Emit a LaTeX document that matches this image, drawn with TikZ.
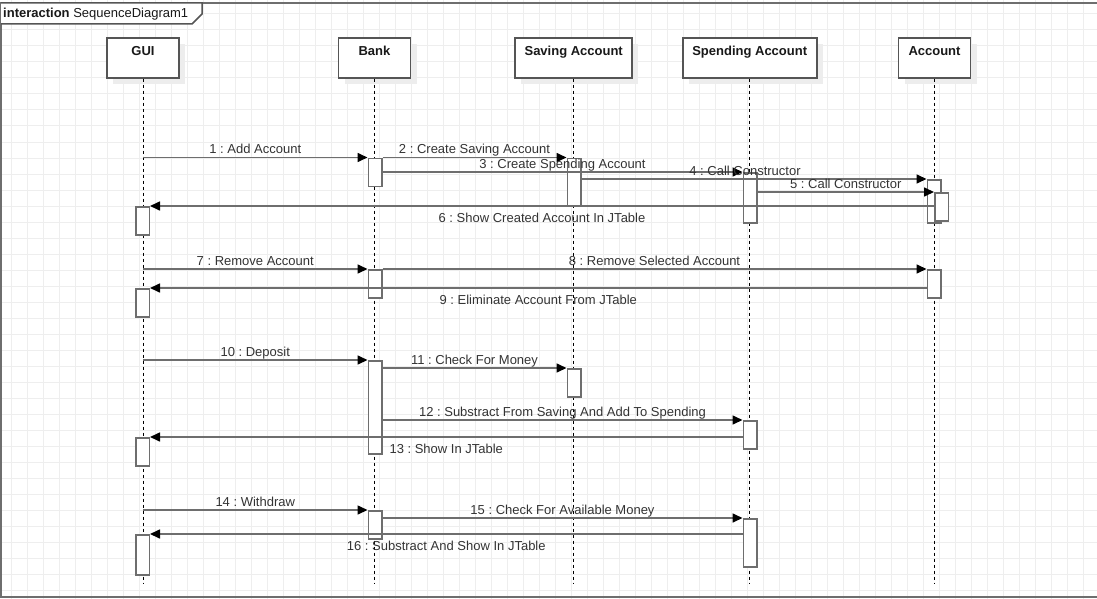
\documentclass[tikz,border=0pt]{standalone}
\usepackage{fontspec}
\setmainfont{Liberation Sans}
\usetikzlibrary{arrows.meta,shadows}
\definecolor{gridc}{HTML}{EEEEEE}
\definecolor{linec}{HTML}{6E6E6E}
\definecolor{boxc}{HTML}{555555}
\definecolor{txtc}{HTML}{333333}
\definecolor{shadc}{HTML}{EDEDED}
\frenchspacing
\begin{document}
\begin{tikzpicture}[x=1pt,y=-1pt,
  head/.style={draw=boxc, line width=1.6pt, fill=white, minimum height=40pt,
    inner ysep=0pt, text height=17.5pt, text depth=22.5pt, anchor=north,
    text=black!90, font=\bfseries\fontsize{13}{15}\selectfont,
    drop shadow={shadow xshift=6pt,shadow yshift=-6pt,fill=shadc,opacity=1}},
  lifeline/.style={draw=black, line width=1pt, dash pattern=on 3pt off 3pt},
  act/.style={draw=linec, line width=1.5pt, fill=white, minimum width=13.5pt,
    inner sep=0pt, anchor=north},
  msg/.style={draw=linec, line width=1.6pt,
    -{Triangle[length=10pt,width=9pt,color=black]}},
  lbl/.style={text=txtc, font=\fontsize{13}{15}\selectfont, inner sep=0pt,
    anchor=base, midway},
  abovelbl/.style={lbl, yshift=4pt},
  belowlbl/.style={lbl, yshift=-16pt},
]
\useasboundingbox (0,0) rectangle (1097,599);

% background grid
\foreach \gx in {11,27,...,1097} \draw[gridc, line width=1pt] (\gx,0) -- (\gx,599);
\foreach \gy in {14,30,...,599} \draw[gridc, line width=1pt] (0,\gy) -- (1097,\gy);

% interaction frame and its name tab
\draw[linec, line width=2pt] (1,3) rectangle (1102,597);
\draw[boxc, line width=1.5pt, fill=white] (1,3) -- (202,3) -- (202,14) -- (192,24) -- (1,24);
\node[anchor=base west, inner sep=0pt, text=black!90, font=\fontsize{13}{15}\selectfont]
  (frametitle) at (3,18) {\textbf{interaction} SequenceDiagram1};

% lifeline heads
\node[head, minimum width=72pt]  (gui)   at (143,37)   {GUI};
\node[head, minimum width=72pt]  (bank)  at (374.5,37) {Bank};
\node[head, minimum width=117pt] (sav)   at (573.7,37) {Saving Account};
\node[head, minimum width=134pt] (spend) at (749.7,37) {Spending Account};
\node[head, minimum width=72pt]  (acc)   at (934.5,37) {Account};

% lifelines
\coordinate (lifeend) at (0,583);
\foreach \h in {gui,bank,sav,spend,acc}
  \draw[lifeline] (\h.south) -- (\h.south |- lifeend);

% activation bars
\node[act, minimum height=28pt] (b1)  at (375,157.5) {};
\node[act, minimum height=48pt] (s1)  at (574,157.5) {};
\node[act, minimum height=50pt] (sp1) at (750,172) {};
\node[act, minimum height=43pt] (a1)  at (934,179) {};
\node[act, minimum height=28pt] (a2)  at (941.5,192) {};
\node[act, minimum height=28pt] (g1)  at (142.5,206) {};
\node[act, minimum height=28pt] (b2)  at (375,269) {};
\node[act, minimum height=28pt] (a3)  at (934,269) {};
\node[act, minimum height=28pt] (g2)  at (142.5,288) {};
\node[act, minimum height=93pt] (b3)  at (375,360) {};
\node[act, minimum height=28pt] (s2)  at (574,368) {};
\node[act, minimum height=28pt] (sp2) at (750,420) {};
\node[act, minimum height=28pt] (g3)  at (142.5,437) {};
\node[act, minimum height=28pt] (b4)  at (375,510) {};
\node[act, minimum height=48pt] (sp3) at (750,518) {};
\node[act, minimum height=40pt] (g4)  at (142.5,534) {};

% messages
\draw[msg] (gui.south |- b1.north) -- (b1.north west) node[abovelbl] {1 : Add Account};
\draw[msg] (b1.east |- s1.north) -- (s1.north west) node[abovelbl] {2 : Create Saving Account};
\draw[msg] (b1.east |- sp1.north) -- (sp1.north west) node[abovelbl] {3 : Create Spending Account};
\draw[msg] (s1.east |- a1.north) -- (a1.north west) node[abovelbl, xshift=-9pt] {4 : Call Constructor};
\draw[msg] (sp1.east |- a2.north) -- (a2.north west) node[abovelbl] {5 : Call Constructor};
\draw[msg] (a2.west |- g1.north) -- (g1.north east) node[belowlbl] {6 : Show Created Account In JTable};

\draw[msg] (gui.south |- b2.north) -- (b2.north west) node[abovelbl] {7 : Remove Account};
\draw[msg] (b2.north east) -- (a3.north west) node[abovelbl] {8 : Remove Selected Account};
\draw[msg] (a3.west |- g2.north) -- (g2.north east) node[belowlbl] {9 : Eliminate Account From JTable};

\draw[msg] (gui.south |- b3.north) -- (b3.north west) node[abovelbl] {10 : Deposit};
\draw[msg] (b3.east |- s2.north) -- (s2.north west) node[abovelbl] {11 : Check For Money};
\draw[msg] (b3.east |- sp2.north) -- (sp2.north west) node[abovelbl] {12 : Substract From Saving And Add To Spending};
\draw[msg] (sp2.west |- g3.north) -- (g3.north east) node[belowlbl] {13 : Show In JTable};

\draw[msg] (gui.south |- b4.north) -- (b4.north west) node[abovelbl] {14 : Withdraw};
\draw[msg] (b4.east |- sp3.north) -- (sp3.north west) node[abovelbl] {15 : Check For Available Money};
\draw[msg] (sp3.west |- g4.north) -- (g4.north east) node[belowlbl] {16 : Substract And Show In JTable};
\end{tikzpicture}
\end{document}
